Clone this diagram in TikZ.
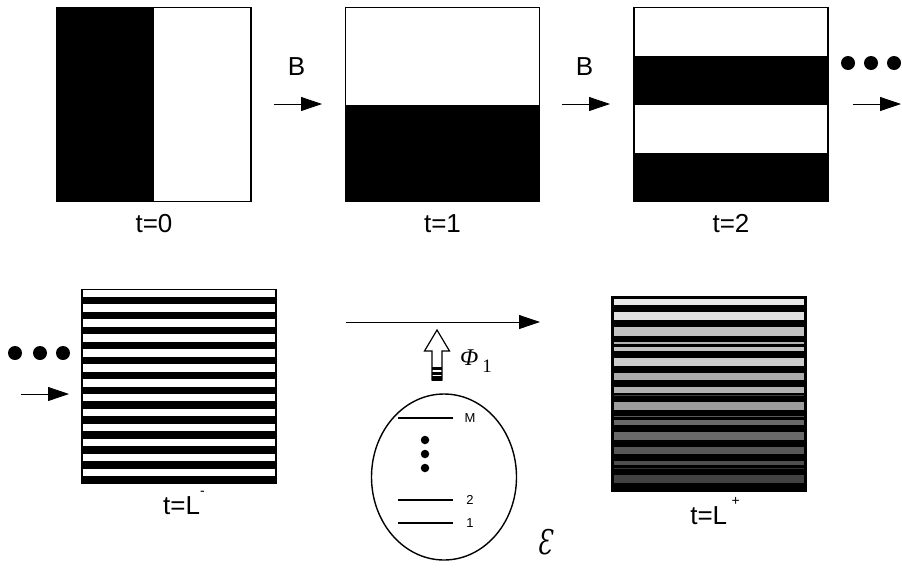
\documentclass[tikz,border=0pt]{standalone}
\usepackage{fontspec}
\setmainfont{Liberation Sans}
\newfontfamily\phifont{Liberation Serif}
\newfontfamily\epsfont{DejaVu Serif}
\usepackage{tikz}
\usetikzlibrary{positioning}
\usetikzlibrary{calc}
\usetikzlibrary{arrows.meta}
\usetikzlibrary{shapes.geometric}
\tikzset{
  % one square per time step
  sq/.style={draw, line width=1.6pt, minimum size=194pt, inner sep=0pt, outer sep=0pt},
  % text under the squares
  lbl/.style={inner sep=0pt, font=\fontsize{26}{26}\selectfont, text height=18.6pt, text depth=0pt},
  % arrows between the steps
  flow/.style={-{Triangle[length=21pt,width=14pt]}, line width=0.8pt},
  dot/.style={circle, fill, inner sep=0pt, minimum size=14pt},
  sdot/.style={circle, fill, inner sep=0pt, minimum size=8.5pt},
  lvl/.style={line width=1.3pt},
  lvltext/.style={inner sep=0pt, font=\fontsize{13}{13}\selectfont},
}
\newcommand{\supmark}[1]{\raisebox{19pt}{\fontsize{14}{14}\selectfont #1}}

\begin{document}
\begin{tikzpicture}[x=1pt, y=-1pt]
  \useasboundingbox (0,0) rectangle (902,568);

  % top row
  \node[sq] (s0) at (154,104.5) {};
  \node[sq] (s1) [right=94.5pt of s0] {};
  \node[sq] (s2) [right=94.5pt of s1] {};
  \fill (s0.north west) rectangle (s0.south);
  \fill (s1.west) rectangle (s1.south east);
  \fill ($(s2.north west)!0.25!(s2.south west)$) rectangle (s2.east);
  \fill ($(s2.north west)!0.75!(s2.south west)$) rectangle (s2.south east);

  \node[lbl, below=12pt of s0] (t0) {t=0};
  \node[lbl, below=12pt of s1] (t1) {t=1};
  \node[lbl, below=12pt of s2] (t2) {t=2};

  \coordinate (a0) at (274,104);
  \coordinate (b0) at (322,104);
  \coordinate (a1) at (562,104);
  \coordinate (b1) at (610,104);
  \coordinate (a2) at (853,104);
  \coordinate (b2) at (901,104);
  \draw[flow] (a0) -- (b0);
  \draw[flow] (a1) -- (b1);
  \draw[flow] (a2) -- (b2);
  \node[lbl] (B0) at (296.5,66) {B};
  \node[lbl] (B1) at (584.5,66) {B};
  \foreach \x in {848,871,894}
    \node[dot] (dt\x) at (\x,63) {};

  % bottom row
  \foreach \x in {15,40,63}
    \node[dot] (db\x) at (\x,353) {};
  \coordinate (a3) at (21,394);
  \coordinate (b3) at (69,394);
  \draw[flow] (a3) -- (b3);

  \node[sq] (sL) at (179,386.5) {};
  \foreach \i in {0,...,12}
    \fill ($(sL.north west)+(0,{(2*\i+1)*194/26})$) rectangle ++(194,{194/26});
  \node[lbl, below=12pt of sL, xshift=5pt] (tL) {t=L\supmark{-}};

  \coordinate (a4) at (346,322);
  \coordinate (b4) at (540,322);
  \draw[flow] (a4) -- (b4);

  \node[sq, fill=black] (sP) at (709,394) {};
  \foreach \a/\b/\g in {2/8/91, 14.7/23/88, 29.7/38.7/76, 45.3/47.3/70, 49.7/54.3/76,
      60.7/69/80, 75.7/83.3/67, 89.7/95.7/70, 98/99/25, 104.7/113/61, 118.7/119.7/35,
      123/128/41, 134.7/143/41, 149.7/157.3/34, 163.7/168/31, 171/172/20, 178/185.7/26}
    \fill[white!\g!black] ($(sP.north west)+(2,\a)$) rectangle ($(sP.north east)+(-2,\b)$);
  \node[lbl, below=15pt of sP, xshift=6pt] (tP) {t=L\,\supmark{+}};

  % frames on top of the fills
  \foreach \s in {s0,s1,s2,sL,sP}
    \draw[line width=1.6pt] (\s.north west) rectangle (\s.south east);

  % environment and its levels
  \node[draw, ellipse, line width=1.4pt, minimum width=145pt, minimum height=166pt, inner sep=0pt] (env) at (444,477) {};
  \foreach \y/\t in {418/M, 500/2, 523/1} {
    \draw[lvl] (398,\y) -- (453,\y);
    \node[lvltext] (n\t) at (470,\y) {\t};
  }
  \foreach \y in {440,454,468}
    \node[sdot] (e\y) at (425,\y) {};
  \node (eps) at (545,542) {\epsfont\itshape\fontsize{34}{34}\selectfont\scalebox{0.7}[1]{Ɛ}};

  % hollow arrow from the environment
  \coordinate (up) at (437,330);
  \draw[line width=1.2pt, fill=white] (up) -- ++(12.5,21) -- ++(-7.5,0) -- ++(0,29) -- ++(-10,0) -- ++(0,-29) -- ++(-7.5,0) -- cycle;
  \fill (432,367) rectangle (442,370);
  \fill (432,371.5) rectangle (442,374.5);
  \fill (432,376) rectangle (442,380.5);
  \node (phi) at (476,361) {\phifont\itshape\fontsize{24}{24}\selectfont Φ\,\raisebox{-7pt}{\upshape\fontsize{19}{19}\selectfont 1}};
\end{tikzpicture}
\end{document}
